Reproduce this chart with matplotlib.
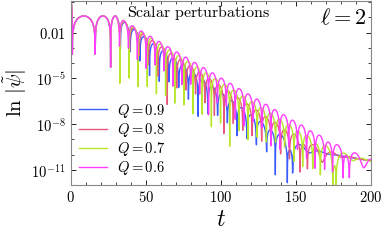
import numpy as np
import matplotlib.pyplot as plt
from matplotlib.ticker import FixedLocator, FuncFormatter, NullFormatter

plt.rcParams['mathtext.fontset'] = 'cm'
plt.rcParams['font.family'] = 'serif'
plt.rcParams['font.serif'] = ['DejaVu Serif']

charges = [0.9, 0.8, 0.7, 0.6]
colors = ['#3a5cff', '#e8587e', '#b8e62a', '#ff3cff']
omega = [0.485, 0.50, 0.515, 0.53]
decay = [0.072, 0.066, 0.062, 0.058]
# shared early part: dip times, envelope nodes (t, log10|psi|)
early_dips = [1.0, 16.2, 26.5]
env_t = [0.0, 1.5, 30.0]
env_log = [0.3, -0.9, -0.9]
# late tail |psi| ~ C t^-7
tail_log_amp = 5.7
tail_power = 7

t = np.arange(0, 200.05, 0.1)

fig = plt.figure(figsize=(3.83, 2.40), dpi=100)
ax = fig.add_axes([0.185, 0.229, 0.784, 0.766])

for q, col, w, g in zip(charges, colors, omega, decay):
    # phase: cos zero at each early dip, then steady ringing
    th_nodes = [0.0] + [np.pi / 2 + k * np.pi for k in range(len(early_dips))]
    t_nodes = [0.0] + early_dips
    theta = np.interp(t, t_nodes, th_nodes)
    late = t > early_dips[-1]
    theta[late] = th_nodes[-1] + w * (t[late] - early_dips[-1])
    lg = np.interp(t, env_t, env_log)
    after = t > env_t[-1]
    lg[after] = env_log[-1] - g * (t[after] - env_t[-1])
    psi = 10 ** lg * np.cos(theta)
    psi += 10 ** tail_log_amp * np.maximum(t, 20) ** (-tail_power)
    ax.plot(t, np.abs(psi), color=col, lw=1.0, label=r'$Q=%.1f$' % q)

ax.set_yscale('log')
ax.set_xlim(0, 200)
ax.set_ylim(1e-12, 10 ** 0.07)

ax.xaxis.set_major_locator(FixedLocator([0, 50, 100, 150, 200]))
ax.xaxis.set_minor_locator(FixedLocator(np.arange(0, 201, 10)))
ax.xaxis.set_major_formatter(FuncFormatter(lambda v, p: r'$%d$' % v))
ax.yaxis.set_major_locator(FixedLocator([1e-2, 1e-5, 1e-8, 1e-11]))
ax.yaxis.set_minor_locator(FixedLocator([10.0 ** k for k in range(-12, 1)]))
ylabels = {-2: r'$0.01$', -5: r'$10^{-5}$', -8: r'$10^{-8}$', -11: r'$10^{-11}$'}
ax.yaxis.set_major_formatter(FuncFormatter(lambda v, p: ylabels.get(int(round(np.log10(v))), '')))
ax.yaxis.set_minor_formatter(NullFormatter())
ax.xaxis.set_minor_formatter(NullFormatter())
ax.tick_params(which='both', direction='in', top=True, right=True, labelsize=10.5)
ax.tick_params(which='major', length=3.5, width=0.6)
ax.tick_params(which='minor', length=2, width=0.5)
for s in ax.spines.values():
    s.set_color('#888888')
    s.set_linewidth(0.8)

ax.set_xlabel(r'$t$', fontsize=17, labelpad=2)
ax.set_ylabel(r'$\ln\,|\tilde{\psi}|$', fontsize=15)
ax.yaxis.set_label_coords(-0.14, 0.5)
ax.text(0.425, 0.99, r'$\mathrm{Scalar\ perturbations}$', transform=ax.transAxes,
        ha='center', va='top', fontsize=11.5)
ax.text(0.985, 0.97, r'$\ell=2$', transform=ax.transAxes, ha='right', va='top', fontsize=16)

ax.legend(loc='lower left', frameon=False, fontsize=10.5, handlelength=1.9,
          labelspacing=0.08, borderaxespad=0.15, handletextpad=0.7)

fig.savefig('out.png', dpi=100)
